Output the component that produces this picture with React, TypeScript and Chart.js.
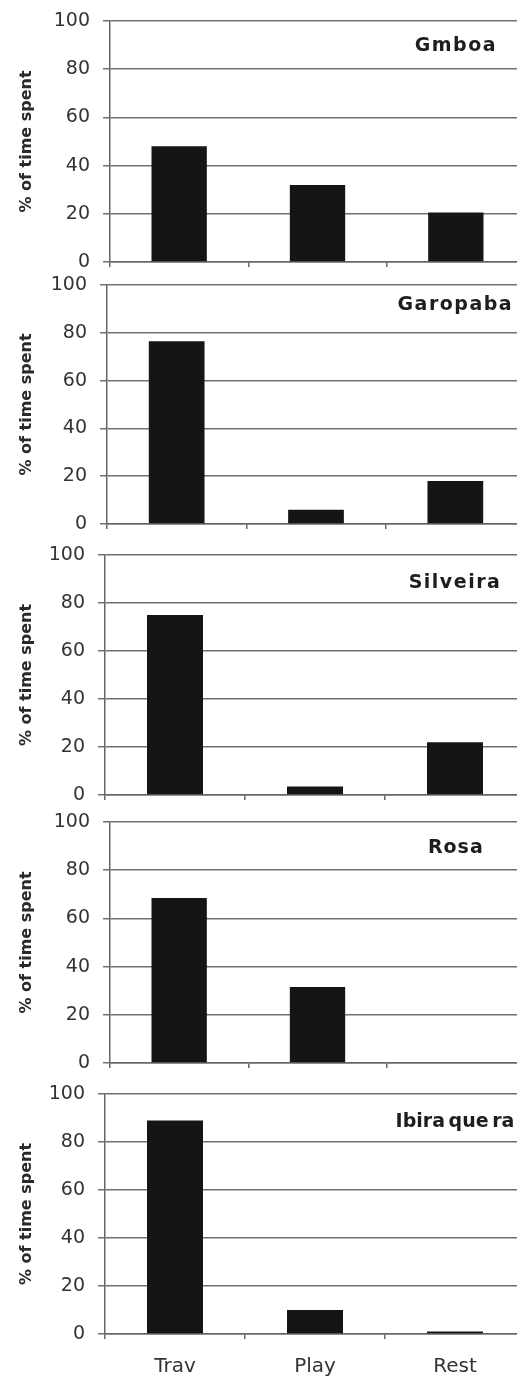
import React, { useEffect, useRef } from 'react';
import { Chart, registerables } from 'chart.js';

Chart.register(...registerables);

// Activity categories and share of time spent at each site (%)
const categories = ['Trav', 'Play', 'Rest'];
const siteNames = ['Gmboa', 'Garopaba', 'Silveira', 'Rosa', 'Ibira que ra'];
const gmboaValues = [48, 32, 20.5];
const garopabaValues = [76.5, 6, 18];
const silveiraValues = [75, 3.5, 22];
const rosaValues = [68.5, 31.5, 0];
const ibiraqueraValues = [89, 10, 1];
const yAxisTitle = '% of time spent';
const yMin = 0;
const yMax = 100;
const yStep = 20;

const panelValues = [gmboaValues, garopabaValues, silveiraValues, rosaValues, ibiraqueraValues];

// Panel geometry: canvas placement, plot-area top padding, x-axis band height, y-axis band width
const panelLayout = [
  { top: 0, height: 270, padTop: 21, xBand: 8, yBand: 110, titleBaseline: 30, letterSpacing: 1.5, wordSpacing: 0, showLabels: false },
  { top: 270, height: 270, padTop: 15, xBand: 16, yBand: 107, titleBaseline: 25, letterSpacing: 1.5, wordSpacing: 0, showLabels: false },
  { top: 540, height: 270, padTop: 15, xBand: 15, yBand: 105, titleBaseline: 33, letterSpacing: 1.5, wordSpacing: 0, showLabels: false },
  { top: 810, height: 270, padTop: 12, xBand: 17, yBand: 110, titleBaseline: 31, letterSpacing: 1, wordSpacing: 0, showLabels: false },
  { top: 1080, height: 300, padTop: 14, xBand: 46, yBand: 105, titleBaseline: 33, letterSpacing: 0, wordSpacing: -3, showLabels: true },
];

const CANVAS_WIDTH = 525;
const FONT = '"DejaVu Sans", "Liberation Sans", Arial, sans-serif';
const GRID_COLOR = '#707070';
const AXIS_COLOR = '#666666';
const TEXT_COLOR = '#333333';
const BAR_COLOR = '#151515';

function makeTitlePlugin(text: string, layout: typeof panelLayout[number]) {
  return {
    id: 'siteTitle',
    afterDraw(chart: any) {
      const { ctx, chartArea, scales } = chart;
      const cx = scales.x.getPixelForValue(categories.length - 1);
      ctx.save();
      ctx.font = `bold 19px ${FONT}`;
      (ctx as any).letterSpacing = `${layout.letterSpacing}px`;
      (ctx as any).wordSpacing = `${layout.wordSpacing}px`;
      ctx.fillStyle = '#1e1e1e';
      ctx.textAlign = 'center';
      ctx.textBaseline = 'alphabetic';
      ctx.fillText(text, cx, chartArea.top + layout.titleBaseline);
      ctx.restore();
    },
  };
}

function Panel({ index }: { index: number }) {
  const ref = useRef<HTMLCanvasElement | null>(null);
  const layout = panelLayout[index];

  useEffect(() => {
    if (!ref.current) return;
    const chart = new Chart(ref.current, {
      type: 'bar',
      data: {
        labels: categories,
        datasets: [
          {
            data: panelValues[index],
            backgroundColor: BAR_COLOR,
            borderWidth: 0,
            barPercentage: 0.4,
            categoryPercentage: 1,
          },
        ],
      },
      options: {
        animation: false,
        responsive: false,
        devicePixelRatio: 1,
        layout: { padding: { top: layout.padTop, left: 0, right: 0, bottom: 0 } },
        plugins: {
          legend: { display: false },
          tooltip: { enabled: false },
        },
        scales: {
          x: {
            offset: true,
            grid: {
              offset: true,
              drawOnChartArea: false,
              drawTicks: true,
              tickLength: 5,
              color: AXIS_COLOR,
              lineWidth: 1.5,
            },
            border: { display: true, color: AXIS_COLOR, width: 1.5 },
            ticks: {
              display: layout.showLabels,
              padding: 16,
              color: TEXT_COLOR,
              font: { family: FONT, size: 20 },
            },
            afterFit: (scale: any) => {
              scale.height = layout.xBand;
              scale.paddingLeft = 0;
              scale.paddingRight = 0;
            },
          },
          y: {
            min: yMin,
            max: yMax,
            ticks: {
              stepSize: yStep,
              padding: 13,
              color: TEXT_COLOR,
              font: { family: FONT, size: 19 },
            },
            grid: {
              color: GRID_COLOR,
              lineWidth: 1.5,
              tickLength: 7,
              drawTicks: true,
            },
            border: { display: true, color: AXIS_COLOR, width: 1.5 },
            title: {
              display: true,
              text: yAxisTitle,
              color: '#2a2a2a',
              font: { family: FONT, size: 16, weight: 'bold' },
              padding: { top: 17, bottom: 0 },
            },
            afterFit: (scale: any) => {
              scale.width = layout.yBand;
              scale.paddingTop = 0;
              scale.paddingBottom = 0;
            },
          },
        },
      },
      plugins: [makeTitlePlugin(siteNames[index], layout)],
    } as any);
    return () => chart.destroy();
  }, [index]);

  return (
    <canvas
      ref={ref}
      width={CANVAS_WIDTH}
      height={layout.height}
      style={{ position: 'absolute', left: 0, top: layout.top, display: 'block' }}
    />
  );
}

export default function App() {
  return (
    <div
      style={{
        position: 'absolute',
        left: 0,
        top: 0,
        width: 517,
        height: 1380,
        overflow: 'hidden',
        background: '#ffffff',
      }}
    >
      {panelLayout.map((_, i) => (
        <Panel key={i} index={i} />
      ))}
    </div>
  );
}
